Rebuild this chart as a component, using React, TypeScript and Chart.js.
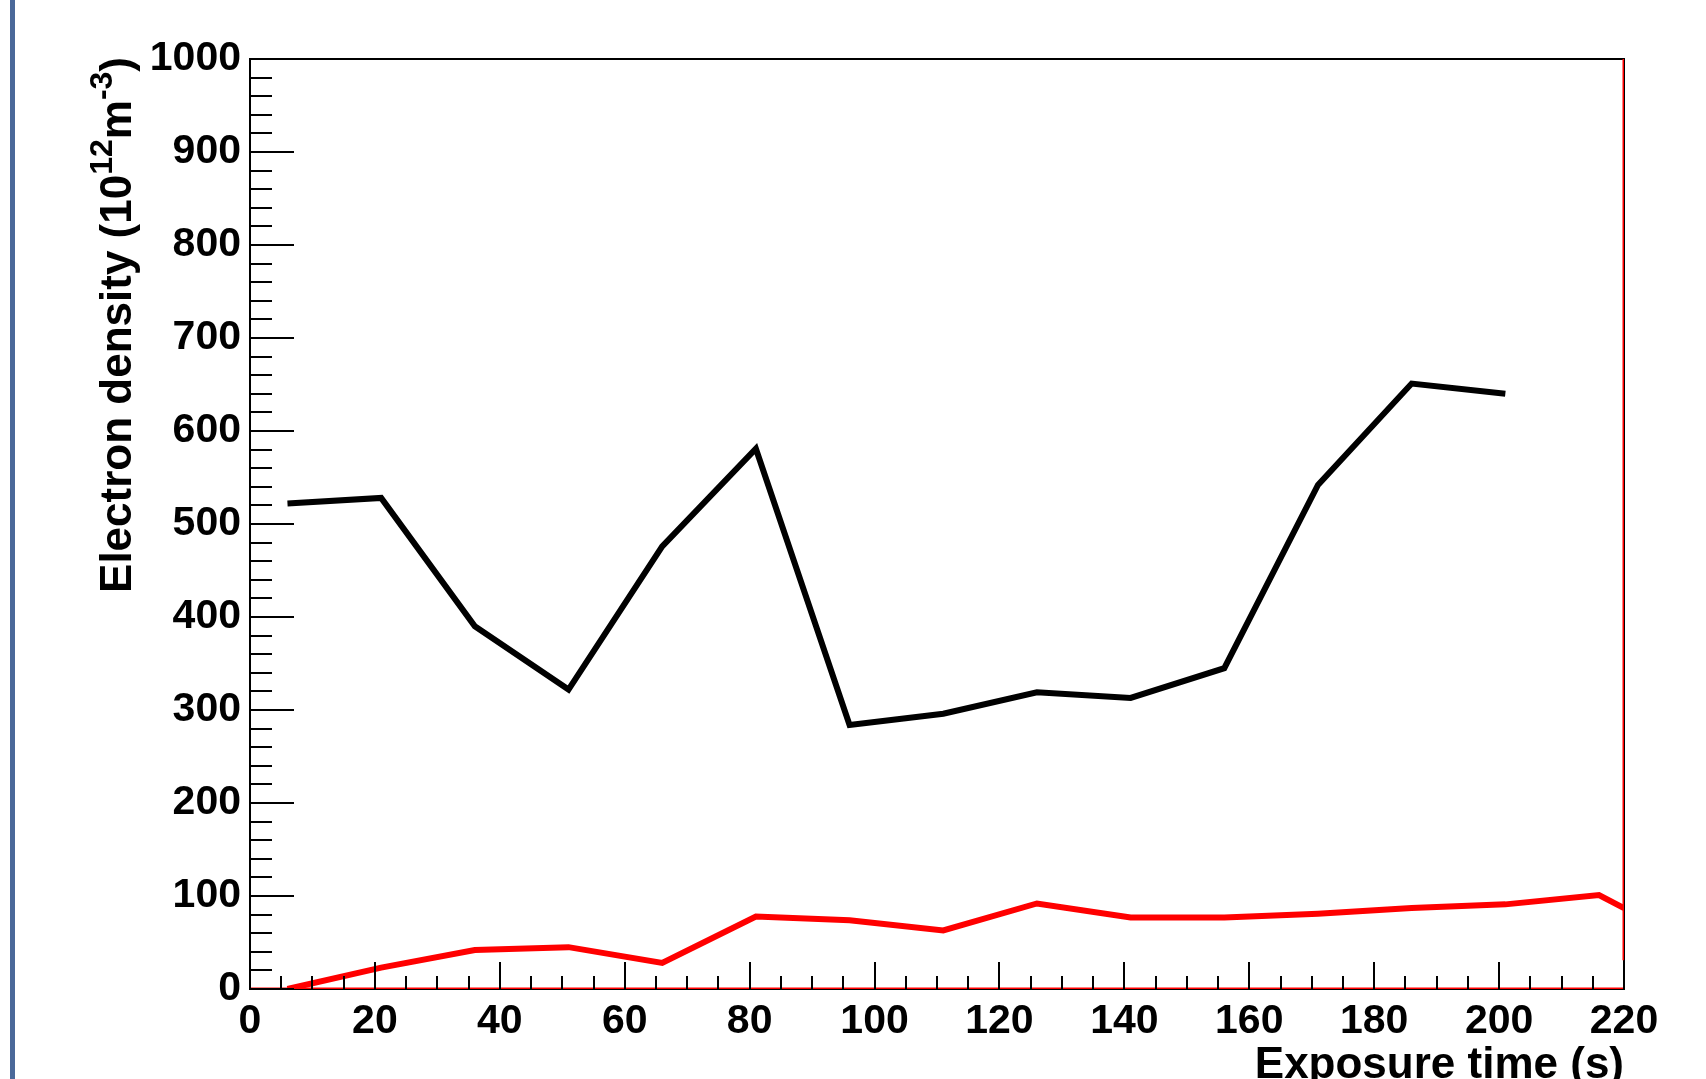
import React, { useEffect, useRef } from "react";
import { Chart, registerables } from "chart.js";

Chart.register(...registerables);

// ---- Data ----
const blackTimes = [6, 21, 36, 51, 66, 81, 96, 111, 126, 141, 156, 171, 186, 201];
const blackDensity = [522, 528, 390, 322, 476, 581, 284, 296, 319, 313, 345, 542, 651, 640];

const redTimes = [6, 21, 36, 51, 66, 81, 96, 111, 126, 141, 156, 171, 186, 201, 216, 220];
const redDensity = [0, 23, 42, 45, 28, 78, 74, 63, 92, 77, 77, 81, 87, 91, 101, 87];

// red artefact lines drawn along the frame in the original
const redBaseTimes = [0, 220];
const redBaseDensity = [0, 0];
const redEdgeTimes = [220, 220];
const redEdgeDensity = [31, 1000];

const xMin = 0;
const xMax = 220;
const xMajorStep = 20;
const xMinorStep = 5;
const yMin = 0;
const yMax = 1000;
const yMajorStep = 100;
const yMinorStep = 20;

const xTitle = "Exposure time (s)";
const yTitleParts: { text: string; sup: boolean }[] = [
  { text: "Electron density (10", sup: false },
  { text: "12", sup: true },
  { text: "m", sup: false },
  { text: "-3", sup: true },
  { text: ")", sup: false },
];

const FONT = '"Liberation Sans", Arial, Helvetica, sans-serif';

const pts = (xs: number[], ys: number[]) => xs.map((x, i) => ({ x, y: ys[i] }));

const decorPlugin = {
  id: "decor",
  beforeDraw(chart: any) {
    const { ctx, width, height } = chart;
    ctx.save();
    ctx.fillStyle = "#ffffff";
    ctx.fillRect(0, 0, width, height);
    ctx.fillStyle = "#4a6899";
    ctx.fillRect(10, 0, 5, height);
    ctx.restore();
  },
  beforeDatasetsDraw(chart: any) {
    const { ctx, chartArea: a } = chart;
    ctx.save();
    ctx.strokeStyle = "#000000";
    ctx.lineWidth = 2;
    ctx.strokeRect(a.left, a.top, a.right - a.left, a.bottom - a.top);
    ctx.restore();
  },
  afterDatasetsDraw(chart: any) {
    const { ctx, chartArea: a } = chart;
    const xs = chart.scales.x;
    const ys = chart.scales.y;
    ctx.save();
    ctx.strokeStyle = "#000000";
    ctx.lineWidth = 2;
    ctx.beginPath();
    for (let v = xMin; v <= xMax + 1e-9; v += xMinorStep) {
      const px = Math.round(xs.getPixelForValue(v));
      const major = Math.abs(v / xMajorStep - Math.round(v / xMajorStep)) < 1e-9;
      const len = major ? 27 : 13;
      ctx.moveTo(px, a.bottom);
      ctx.lineTo(px, a.bottom - len);
    }
    for (let v = yMin; v <= yMax + 1e-9; v += yMinorStep) {
      const py = Math.round(ys.getPixelForValue(v));
      const major = Math.abs(v / yMajorStep - Math.round(v / yMajorStep)) < 1e-9;
      const len = major ? 44 : 22;
      ctx.moveTo(a.left, py);
      ctx.lineTo(a.left + len, py);
    }
    ctx.stroke();

    // X title (right aligned at end of axis)
    ctx.fillStyle = "#000000";
    ctx.font = `bold 44px ${FONT}`;
    ctx.textAlign = "right";
    ctx.textBaseline = "alphabetic";
    ctx.fillText(xTitle, a.right, a.bottom + 89);

    // Y title (rotated, aligned to top of axis, with superscripts)
    const mainFont = `bold 44px ${FONT}`;
    const supFont = `bold 32px ${FONT}`;
    let total = 0;
    const widths = yTitleParts.map((p) => {
      ctx.font = p.sup ? supFont : mainFont;
      const w = ctx.measureText(p.text).width;
      total += w;
      return w;
    });
    ctx.translate(a.left - 119, a.top - 2);
    ctx.rotate(-Math.PI / 2);
    ctx.textAlign = "left";
    let x = -total;
    yTitleParts.forEach((p, i) => {
      ctx.font = p.sup ? supFont : mainFont;
      ctx.fillText(p.text, x, p.sup ? -19 : 0);
      x += widths[i];
    });
    ctx.restore();
  },
};

export default function App() {
  const canvasRef = useRef<HTMLCanvasElement | null>(null);

  useEffect(() => {
    const canvas = canvasRef.current;
    if (!canvas) return;
    const tickFont = { family: FONT, size: 41, weight: "bold" as const };
    const chart = new Chart(canvas, {
      type: "line",
      data: {
        datasets: [
          {
            label: "red base",
            data: pts(redBaseTimes, redBaseDensity),
            borderColor: "#ff0000",
            borderWidth: 3,
            pointRadius: 0,
            tension: 0,
          },
          {
            label: "red edge",
            data: pts(redEdgeTimes, redEdgeDensity),
            borderColor: "#ff0000",
            borderWidth: 3,
            pointRadius: 0,
            tension: 0,
          },
          {
            label: "red",
            data: pts(redTimes, redDensity),
            borderColor: "#ff0000",
            borderWidth: 6,
            pointRadius: 0,
            tension: 0,
          },
          {
            label: "black",
            data: pts(blackTimes, blackDensity),
            borderColor: "#000000",
            borderWidth: 6,
            pointRadius: 0,
            tension: 0,
          },
        ],
      },
      options: {
        animation: false,
        responsive: false,
        devicePixelRatio: 1,
        layout: { padding: { left: 0, right: 82, top: 59, bottom: 0 } },
        plugins: {
          legend: { display: false },
          tooltip: { enabled: false },
          title: { display: false },
        },
        scales: {
          x: {
            type: "linear",
            min: xMin,
            max: xMax,
            grid: { display: false },
            border: { display: true, color: "#000000", width: 2 },
            ticks: {
              stepSize: xMajorStep,
              color: "#000000",
              font: tickFont,
              padding: 0,
              maxRotation: 0,
              autoSkip: false,
              callback: (v: any) => String(v),
            },
            afterFit: (s: any) => {
              s.height = 90;
            },
          },
          y: {
            type: "linear",
            min: yMin,
            max: yMax,
            grid: { display: false },
            border: { display: true, color: "#000000", width: 2 },
            ticks: {
              stepSize: yMajorStep,
              color: "#000000",
              font: tickFont,
              padding: 1,
              autoSkip: false,
              callback: (v: any) => String(v),
            },
            afterFit: (s: any) => {
              s.width = 250;
            },
          },
        },
      },
      plugins: [decorPlugin],
    });
    return () => chart.destroy();
  }, []);

  return (
    <div style={{ position: "fixed", left: 0, top: 0, width: 1706, height: 1079, background: "#fff" }}>
      <canvas ref={canvasRef} width={1706} height={1079} style={{ display: "block" }} />
    </div>
  );
}
